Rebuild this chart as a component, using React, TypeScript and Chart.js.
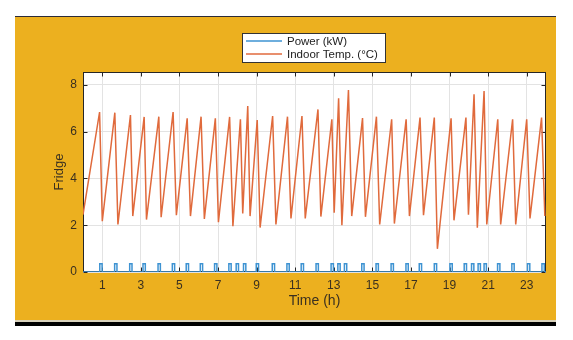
import React, { useEffect, useRef } from "react";
import { Chart, registerables } from "chart.js";

Chart.register(...registerables);

// Indoor temperature (°C): times (h) of troughs / peaks
const tempTime = [
  0.0, 0.86, 1.0, 1.65, 1.81, 2.46, 2.58, 3.17, 3.29, 3.93, 4.05, 4.67, 4.84, 5.4, 5.57, 6.12, 6.29, 6.86, 7.02,
  7.6, 7.77, 8.16, 8.28, 8.54, 8.66, 9.03, 9.18, 9.83, 10.0, 10.6, 10.78, 11.35, 11.52, 12.18, 12.33, 12.9, 13.02,
  13.25, 13.42, 13.76, 13.93, 14.49, 14.64, 15.21, 15.38, 16.0, 16.14, 16.75, 16.92, 17.47, 17.65, 18.21, 18.37,
  19.08, 19.23, 19.85, 19.98, 20.27, 20.44, 20.79, 20.93, 21.5, 21.65, 22.27, 22.43, 23.0, 23.17, 23.77, 23.94,
];
const tempValue = [
  2.45, 6.84, 2.17, 6.81, 2.03, 6.71, 2.39, 6.63, 2.24, 6.64, 2.34, 6.84, 2.43, 6.57, 2.39, 6.64, 2.27, 6.57, 2.13,
  6.63, 1.96, 6.53, 2.5, 7.1, 2.39, 6.5, 1.9, 6.67, 2.03, 6.64, 2.29, 6.67, 2.29, 6.95, 2.37, 6.53, 2.53,
  7.43, 2.0, 7.78, 2.39, 6.58, 2.36, 6.64, 2.03, 6.53, 2.07, 6.53, 2.39, 6.6, 2.43, 6.6, 0.99,
  6.57, 2.21, 6.6, 2.45, 7.6, 1.89, 7.74, 2.03, 6.53, 2.03, 6.53, 2.03, 6.53, 2.29, 6.6, 2.39,
];

// Fridge power (kW): compressor on / off times (h)
const powerOnStart = [
  0.87, 1.64, 2.42, 3.11, 3.89, 4.63, 5.35, 6.08, 6.82, 7.56, 7.94, 8.32, 8.98, 9.81, 10.57, 11.31, 12.08, 12.86,
  13.21, 13.55, 14.45, 15.19, 15.97, 16.74, 17.43, 18.21, 19.02, 19.76, 20.14, 20.48, 20.79, 21.49, 22.23, 23.04, 23.79,
];
const powerOnEnd = [
  0.99, 1.76, 2.54, 3.23, 4.01, 4.75, 5.47, 6.2, 6.94, 7.68, 8.06, 8.44, 9.1, 9.93, 10.69, 11.43, 12.2, 12.98,
  13.33, 13.67, 14.57, 15.31, 16.09, 16.86, 17.55, 18.33, 19.14, 19.88, 20.26, 20.6, 20.91, 21.61, 22.35, 23.16, 23.91,
];
const powerLevel = [0, 0.35];

const xTickValues = [1, 3, 5, 7, 9, 11, 13, 15, 17, 19, 21, 23];
const yTickValues = [0, 2, 4, 6, 8];
const xRange = [0, 24];
const yRange = [0, 8.55];
const seriesLabels = ["Power (kW)", "Indoor Temp. (°C)"];
const seriesColors = ["#3E93D2", "#E06A3C"];
const xTitle = "Time (h)";
const yTitle = "Fridge";

const FONT = "'Liberation Sans', Arial, sans-serif";
const TEXT = "#3a3020";

export default function App() {
  const ref = useRef<HTMLCanvasElement>(null);

  useEffect(() => {
    if (!ref.current) return;
    const tempData = tempTime.map((t, i) => ({ x: t, y: tempValue[i] }));
    const powerData: { x: number; y: number }[] = [{ x: xRange[0], y: powerLevel[0] }];
    powerOnStart.forEach((s, i) => {
      const e = powerOnEnd[i];
      powerData.push({ x: s, y: powerLevel[0] }, { x: s, y: powerLevel[1] }, { x: e, y: powerLevel[1] }, { x: e, y: powerLevel[0] });
    });
    powerData.push({ x: xRange[1], y: powerLevel[0] });

    const framePlugin = {
      id: "frame",
      beforeDraw(chart: any) {
        const { ctx, chartArea: a } = chart;
        ctx.save();
        ctx.fillStyle = "#ffffff";
        ctx.fillRect(a.left, a.top, a.right - a.left, a.bottom - a.top);
        ctx.restore();
      },
      beforeDatasetsDraw(chart: any) {
        const { ctx, chartArea: a, scales } = chart;
        ctx.save();
        ctx.strokeStyle = "#262626";
        ctx.lineWidth = 1;
        const L = Math.round(a.left) + 0.5;
        const R = Math.round(a.right) - 0.5;
        const T = Math.round(a.top) + 0.5;
        const B = Math.round(a.bottom) - 0.5;
        ctx.strokeRect(L, T, R - L, B - T);
        ctx.beginPath();
        xTickValues.forEach((v) => {
          const px = Math.round(scales.x.getPixelForValue(v)) + 0.5;
          ctx.moveTo(px, T);
          ctx.lineTo(px, T + 4);
          ctx.moveTo(px, B);
          ctx.lineTo(px, B - 4);
        });
        yTickValues.forEach((v) => {
          const py = Math.round(scales.y.getPixelForValue(v)) + 0.5;
          ctx.moveTo(L, py);
          ctx.lineTo(L + 4, py);
          ctx.moveTo(R, py);
          ctx.lineTo(R - 4, py);
        });
        ctx.stroke();
        ctx.restore();
      },
      afterDraw(chart: any) {
        const { ctx } = chart;
        const bx = 242, by = 33, bw = 143, bh = 29;
        ctx.save();
        ctx.fillStyle = "#ffffff";
        ctx.fillRect(bx, by, bw, bh);
        ctx.strokeStyle = "#333333";
        ctx.lineWidth = 1;
        ctx.strokeRect(bx + 0.5, by + 0.5, bw, bh);
        const rows = [41, 54];
        chart.data.datasets.forEach((ds: any, i: number) => {
          ctx.strokeStyle = ds.borderColor;
          ctx.lineWidth = 1.5;
          ctx.beginPath();
          ctx.moveTo(246, rows[i]);
          ctx.lineTo(282, rows[i]);
          ctx.stroke();
          ctx.fillStyle = "#222222";
          ctx.font = `11.5px ${FONT}`;
          ctx.textBaseline = "middle";
          ctx.textAlign = "left";
          ctx.fillText(ds.label, 287, rows[i] + 0.5);
        });
        ctx.restore();
      },
    };

    const chart = new Chart(ref.current, {
      type: "line",
      data: {
        datasets: [
          {
            label: seriesLabels[0],
            data: powerData,
            borderColor: seriesColors[0],
            backgroundColor: seriesColors[0],
            borderWidth: 1.5,
            pointRadius: 0,
            tension: 0,
            order: 2,
          },
          {
            label: seriesLabels[1],
            data: tempData,
            borderColor: seriesColors[1],
            backgroundColor: seriesColors[1],
            borderWidth: 1.5,
            pointRadius: 0,
            tension: 0,
            order: 1,
          },
        ],
      },
      options: {
        responsive: false,
        animation: false,
        devicePixelRatio: 1,
        layout: { padding: { left: 0, right: 27, top: 72, bottom: 0 } },
        plugins: {
          legend: { display: false },
          tooltip: { enabled: false },
        },
        scales: {
          x: {
            type: "linear",
            min: xRange[0],
            max: xRange[1],
            afterBuildTicks: (scale: any) => {
              scale.ticks = xTickValues.map((v) => ({ value: v }));
            },
            afterFit: (scale: any) => {
              scale.height = 68;
            },
            grid: { color: "#e3e3e3", lineWidth: 1, drawTicks: false },
            border: { display: false },
            ticks: {
              padding: 6,
              color: TEXT,
              font: { family: FONT, size: 12 },
              maxRotation: 0,
              autoSkip: false,
            },
            title: {
              display: true,
              text: xTitle,
              color: TEXT,
              font: { family: FONT, size: 14 },
              padding: { top: 0, bottom: 30 },
            },
          },
          y: {
            type: "linear",
            min: yRange[0],
            max: yRange[1],
            afterBuildTicks: (scale: any) => {
              scale.ticks = yTickValues.map((v) => ({ value: v }));
            },
            afterFit: (scale: any) => {
              scale.width = 83;
            },
            grid: { color: "#e3e3e3", lineWidth: 1, drawTicks: false },
            border: { display: false },
            ticks: {
              padding: 6,
              color: TEXT,
              font: { family: FONT, size: 12 },
            },
            title: {
              display: true,
              text: yTitle,
              color: TEXT,
              font: { family: FONT, size: 13 },
              padding: { top: 52, bottom: 0 },
            },
          },
        },
      },
      plugins: [framePlugin],
    });
    return () => chart.destroy();
  }, []);

  return (
    <div style={{ position: "fixed", left: 0, top: 0, width: 573, height: 340, background: "#ffffff", overflow: "hidden" }}>
      <div style={{ position: "absolute", left: 15, top: 16, width: 541, height: 1, background: "#2b2b38" }} />
      <div style={{ position: "absolute", left: 15, top: 17, width: 541, height: 303, background: "#ECB01F" }} />
      <div style={{ position: "absolute", left: 15, top: 320, width: 541, height: 2, background: "#d9d2bc" }} />
      <div style={{ position: "absolute", left: 15, top: 322, width: 541, height: 4, background: "#000000" }} />
      <canvas ref={ref} width={573} height={340} style={{ position: "absolute", left: 0, top: 0, width: 573, height: 340 }} />
    </div>
  );
}
